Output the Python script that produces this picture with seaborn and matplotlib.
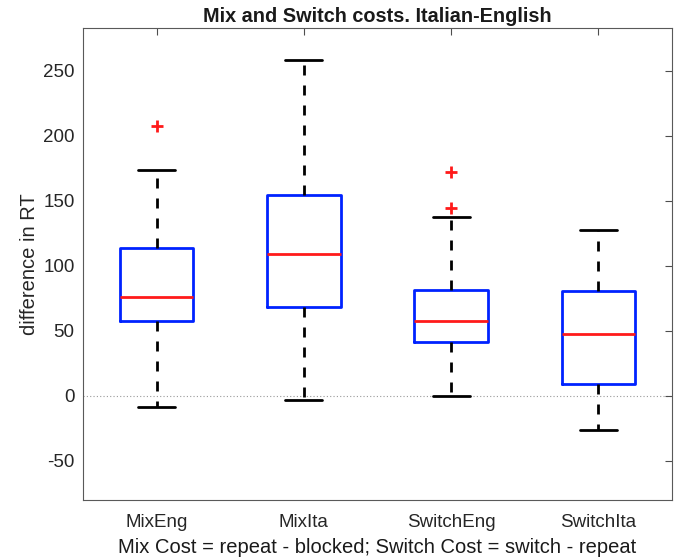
import numpy as np
import pandas as pd
import matplotlib
matplotlib.use("Agg")
import matplotlib.pyplot as plt
import seaborn as sns

# Values
categories = ["MixEng", "MixIta", "SwitchEng", "SwitchIta"]
whisker_low = [-8.5, -3.0, 0.0, -26.0]
q1_values = [58.0, 68.5, 41.3, 9.5]
medians = [76.4, 109.5, 57.7, 48.0]
q3_values = [113.8, 154.5, 81.8, 81.0]
whisker_high = [174.0, 258.5, 137.8, 128.0]
outliers = [[207.8], [], [144.5, 172.0], []]

title_text = "Mix and Switch costs. Italian-English"
ylabel_text = "difference in RT"
xlabel_text = "Mix Cost = repeat - blocked; Switch Cost = switch - repeat"
yticks = [-50, 0, 50, 100, 150, 200, 250]


def sample_from_summary(lo, q1, med, q3, hi, outs):
    """Observations whose quartiles / whiskers equal the read summary values."""
    for m in range(1, 10):
        s = [lo] + [q1] * m + [med] * m + [q3] * m + [hi] + list(outs)
        p = np.percentile(s, [25, 50, 75])
        if np.allclose(p, [q1, med, q3]):
            return s
    return [lo, q1, med, q3, hi] + list(outs)


rows = []
for i, c in enumerate(categories):
    for v in sample_from_summary(whisker_low[i], q1_values[i], medians[i],
                                 q3_values[i], whisker_high[i], outliers[i]):
        rows.append({"cond": c, "value": v})
df = pd.DataFrame(rows)

sns.set_style("white")
plt.rcParams["font.family"] = ["Liberation Sans", "DejaVu Sans"]

fig = plt.figure(figsize=(6.83, 5.6), dpi=100)
ax = fig.add_axes([83 / 683, 60 / 560, 589 / 683, 472 / 560])

ax.axhline(0, color="0.6", linestyle=(0, (1, 2)), linewidth=0.8, zorder=0)

sns.boxplot(
    data=df, x="cond", y="value", order=categories, ax=ax,
    width=0.5, fill=False, whis=1.5,
    boxprops=dict(color="#0022ff", linewidth=2.0),
    whiskerprops=dict(color="black", linewidth=2.0, linestyle=(0, (3.6, 3.6))),
    capprops=dict(color="black", linewidth=2.0),
    medianprops=dict(color="#ff1a1a", linewidth=2.0),
    flierprops=dict(marker="+", markeredgecolor="#ff1a1a", markerfacecolor="none",
                    markersize=8, markeredgewidth=2.0, linestyle="none"),
)

ax.set_xlim(-0.5, 3.5)
ax.set_ylim(-80, 283)
ax.set_yticks(yticks)
ax.set_yticklabels([str(t) for t in yticks])

ax.tick_params(axis="both", direction="in", length=5, width=0.8, color="0.3",
               labelsize=13.5, labelcolor="0.15", top=True, right=True, pad=6)
ax.tick_params(axis="x", pad=10)
for sp in ax.spines.values():
    sp.set_visible(True)
    sp.set_color("0.35")
    sp.set_linewidth(0.8)

ax.set_title(title_text, fontsize=14.3, fontweight="bold", color="0.1", pad=4)
ax.set_ylabel(ylabel_text, fontsize=14.5, color="0.15", labelpad=3)
ax.set_xlabel(xlabel_text, fontsize=14.5, color="0.1", labelpad=5)

fig.savefig("out.png", dpi=100)
